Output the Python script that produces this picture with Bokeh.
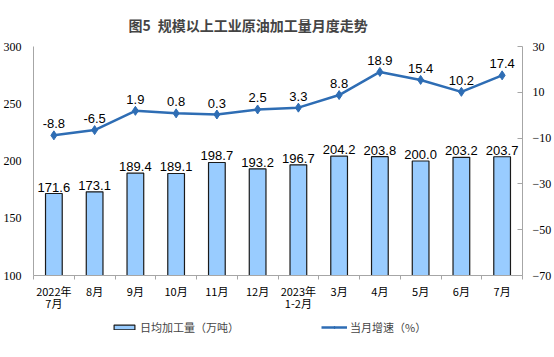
from bokeh.plotting import figure
from bokeh.layouts import column
from bokeh.models import (Range1d, LinearAxis, FixedTicker, ColumnDataSource, Legend, LegendItem)
from bokeh.core.properties import value
from bokeh.embed import file_html
from bokeh.resources import INLINE
import numpy as np

categories = ["2022年\n7月", "8月", "9月", "10月", "11月", "12月", "2023年\n1-2月", "3月", "4月", "5月", "6月", "7月"]
daily_output = [171.6, 173.1, 189.4, 189.1, 198.7, 193.2, 196.7, 204.2, 203.8, 200.0, 203.2, 203.7]
growth = [-8.8, -6.5, 1.9, 0.8, 0.3, 2.5, 3.3, 8.8, 18.9, 15.4, 10.2, 17.4]
left_ticks = [100, 150, 200, 250, 300]
right_ticks = [-70, -50, -30, -10, 10, 30]
series_names = ["日均加工量（万吨）", "当月增速（%）"]

n = len(categories)
xs = list(np.arange(n) + 0.5)

src = ColumnDataSource(dict(
    x=xs, v=daily_output, g=growth,
    vl=[f"{v:.1f}" for v in daily_output],
    gl=[f"{v:.1f}" for v in growth],
))

CJK = "Noto Sans CJK SC"
BAR = "#99CCFF"
LINE = "#2E6DB4"
AXC = "#A6A6A6"

p = figure(width=554, height=314, output_backend="svg", toolbar_location=None,
           x_range=Range1d(0, n), y_range=Range1d(100, 300),
           min_border_left=33, min_border_right=31, min_border_top=44, min_border_bottom=37)
p.outline_line_color = None
p.xgrid.visible = False
p.ygrid.visible = False
p.background_fill_color = "white"
p.border_fill_color = "white"

p.extra_y_ranges = {"rate": Range1d(-70, 30)}

bars = p.vbar(x="x", top="v", bottom=100, width=0.41, source=src,
              fill_color=BAR, line_color="#1A1A1A", line_width=1.2)
ln = p.line(x="x", y="g", source=src, y_range_name="rate", line_color=LINE, line_width=2.5)
mk = p.scatter(x="x", y="g", source=src, y_range_name="rate", marker="diamond",
               size=9, fill_color=LINE, line_color=LINE)

p.text(x="x", y="v", text="vl", source=src, text_align="center", text_baseline="bottom",
       y_offset=-2, text_font=value("Liberation Sans"), text_font_size="13px", text_color="#000000")
p.text(x="x", y="g", text="gl", source=src, y_range_name="rate", text_align="center",
       text_baseline="bottom", y_offset=-7, text_font=value("Liberation Sans"),
       text_font_size="13px", text_color="#000000")

# x axis
xa = p.xaxis[0]
xa.ticker = FixedTicker(ticks=xs, minor_ticks=list(range(n + 1)))
xa.major_label_overrides = {x: c for x, c in zip(xs, categories)}
xa.major_tick_line_color = None
xa.minor_tick_in = 0
xa.minor_tick_out = 4
xa.minor_tick_line_color = AXC
xa.axis_line_color = AXC
xa.major_label_text_font = CJK
xa.major_label_text_font_size = "11px"
xa.major_label_text_line_height = 0.8
xa.major_label_text_color = "#000000"
xa.major_label_standoff = 1

# left y axis
ya = p.yaxis[0]
ya.ticker = FixedTicker(ticks=left_ticks)
ya.minor_tick_line_color = None
ya.major_tick_in = 0
ya.major_tick_out = 0
ya.axis_line_color = AXC
ya.major_label_text_font = "Liberation Serif"
ya.major_label_text_font_size = "12px"
ya.major_label_text_color = "#000000"
ya.major_label_standoff = 12

ra = LinearAxis(y_range_name="rate", ticker=FixedTicker(ticks=right_ticks))
ra.minor_tick_line_color = None
ra.major_tick_in = 5
ra.major_tick_out = 0
ra.major_tick_line_color = AXC
ra.axis_line_color = AXC
ra.major_label_text_font = "Liberation Serif"
ra.major_label_text_font_size = "12px"
ra.major_label_text_color = "#000000"
ra.major_label_standoff = 10
p.add_layout(ra, "right")

p.title.text = "图5\u2002规模以上工业原油加工量月度走势"
p.title.text_font = CJK
p.title.text_font_size = "14px"
p.title.text_font_style = "bold"
p.title.align = "left"
p.title.offset = 95
p.title.standoff = 24

# legend strip below (proxy glyphs use the same data, kept outside the strip's visible range)
lf = figure(width=554, height=43, output_backend="svg", toolbar_location=None,
            x_range=Range1d(0, 1), y_range=Range1d(1000, 1001),
            min_border=0)
lf.axis.visible = False
lf.grid.visible = False
lf.outline_line_color = None
lb = lf.vbar(x="x", top="v", bottom=100, width=0.41, source=src,
             fill_color=BAR, line_color="#1A1A1A", line_width=1.2)
ll = lf.line(x="x", y="g", source=src, line_color=LINE, line_width=2.5)
lm = lf.scatter(x="x", y="g", source=src, marker="diamond", size=6, fill_color=LINE, line_color=LINE)
legend = Legend(items=[LegendItem(label=series_names[0], renderers=[lb]),
                       LegendItem(label=series_names[1], renderers=[ll, lm])],
                orientation="horizontal", location=(78, 22),
                glyph_width=26, glyph_height=6, spacing=82, label_standoff=3,
                label_text_font=CJK, label_text_font_size="11px",
                label_height=12,
                background_fill_alpha=0, border_line_color=None, padding=0, margin=0)
lf.add_layout(legend, "center")

open("out.html", "w").write(file_html(column(p, lf, spacing=0), INLINE))
